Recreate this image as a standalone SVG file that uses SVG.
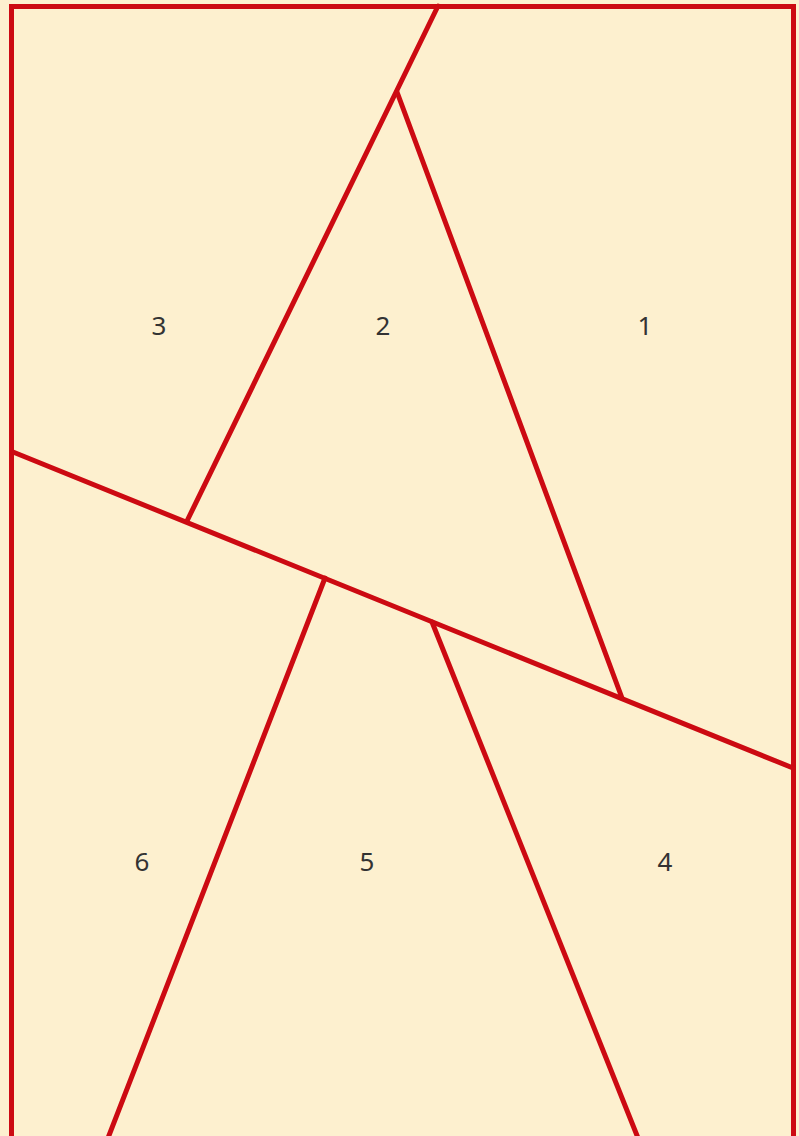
<svg xmlns="http://www.w3.org/2000/svg" width="799" height="1136" viewBox="0 0 799 1136">
<style>
.ln{stroke:#CC0A12;stroke-width:5;stroke-linecap:round;fill:none}
.lb{font-family:"Noto Sans","DejaVu Sans",sans-serif;font-size:26px;fill:#333;text-anchor:middle}
</style>
<rect x="0" y="0" width="799" height="1136" fill="#FDF0CF"/>
<g id="frame">
<rect x="11.5" y="6.5" width="782" height="1132" fill="#FDF0CF" stroke="#CC0A12" stroke-width="5"/>
</g>
<g id="connectors">
<line class="ln" x1="13" y1="452" x2="793" y2="768"/>
<line class="ln" x1="438" y1="6" x2="187" y2="521"/>
<line class="ln" x1="397" y1="92" x2="622" y2="698"/>
<line class="ln" x1="325" y1="578" x2="108" y2="1138"/>
<line class="ln" x1="432" y1="622" x2="638" y2="1138"/>
</g>
<g id="n1"><text class="lb" x="645" y="335">1</text></g>
<g id="n2"><text class="lb" x="383" y="335">2</text></g>
<g id="n3"><text class="lb" x="159" y="335">3</text></g>
<g id="n4"><text class="lb" x="665" y="871">4</text></g>
<g id="n5"><text class="lb" x="367" y="871">5</text></g>
<g id="n6"><text class="lb" x="142" y="871">6</text></g>
</svg>
